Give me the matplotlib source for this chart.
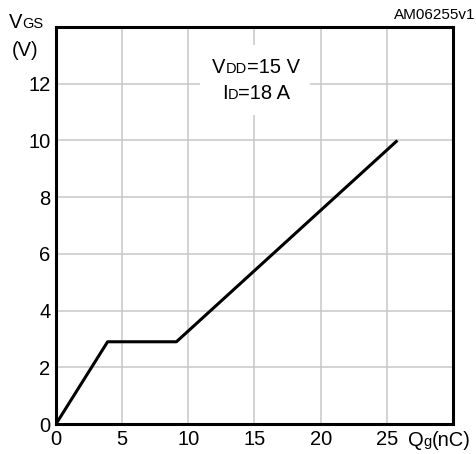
import matplotlib
matplotlib.use("Agg")
import matplotlib.pyplot as plt

# gate charge curve
qg_nc = [0.0, 3.9, 9.1, 25.8]
vgs_v = [0.0, 2.9, 2.9, 10.0]

x_ticks = [0, 5, 10, 15, 20, 25]
y_ticks = [0, 2, 4, 6, 8, 10, 12]

plt.rcParams['font.family'] = ['Liberation Sans', 'DejaVu Sans']

W, H = 477, 454
fig = plt.figure(figsize=(W / 100, H / 100), dpi=100)
ax = fig.add_axes([56 / W, 1 - 424 / H, 397 / W, 397 / H])

ax.set_xlim(0, 30)
ax.set_ylim(0, 14)
ax.set_xticks(range(0, 31, 5))
ax.set_yticks(range(0, 15, 2))
ax.grid(True, color='#c8c8c8', lw=1.1)
ax.set_axisbelow(True)
ax.tick_params(length=0, labelsize=14.5, pad=4)
ax.set_xticklabels([str(t) for t in x_ticks] + [''])
ax.set_yticklabels([str(t) for t in y_ticks] + [''])
for s in ax.spines.values():
    s.set_linewidth(2.2)

ax.plot(qg_nc, vgs_v, color='black', lw=2.2, solid_capstyle='butt', zorder=3)

renderer = fig.canvas.get_renderer()


def rich(x, y, parts):
    # parts: list of (text, size); x, y in pixels from top-left, baseline
    cx = x
    for txt, size in parts:
        t = fig.text(cx / W, 1 - y / H, txt, fontsize=size, va='baseline', ha='left')
        bb = t.get_window_extent(renderer)
        cx += bb.width


# white patch behind the condition text
ax.add_patch(plt.Rectangle((10.9, 10.9), 8.3, 2.45, facecolor='white',
                           edgecolor='none', zorder=2))

rich(212, 73, [('V', 14.5), ('DD', 10.5), ('=15 V', 14.5)])
rich(222, 99, [('I', 14.5), ('D', 10.5), ('=18 A', 14.5)])

rich(9, 28, [('V', 14.5), ('GS', 10.5)])
fig.text(12 / W, 1 - 56 / H, '(V)', fontsize=14.5, va='baseline', ha='left')

rich(408, 446, [('Q', 14.5), ('g', 10.5), ('(nC)', 14.5)])

fig.text(475 / W, 1 - 19 / H, 'AM06255v1', fontsize=11, va='baseline', ha='right')

fig.savefig('out.png', dpi=100)
